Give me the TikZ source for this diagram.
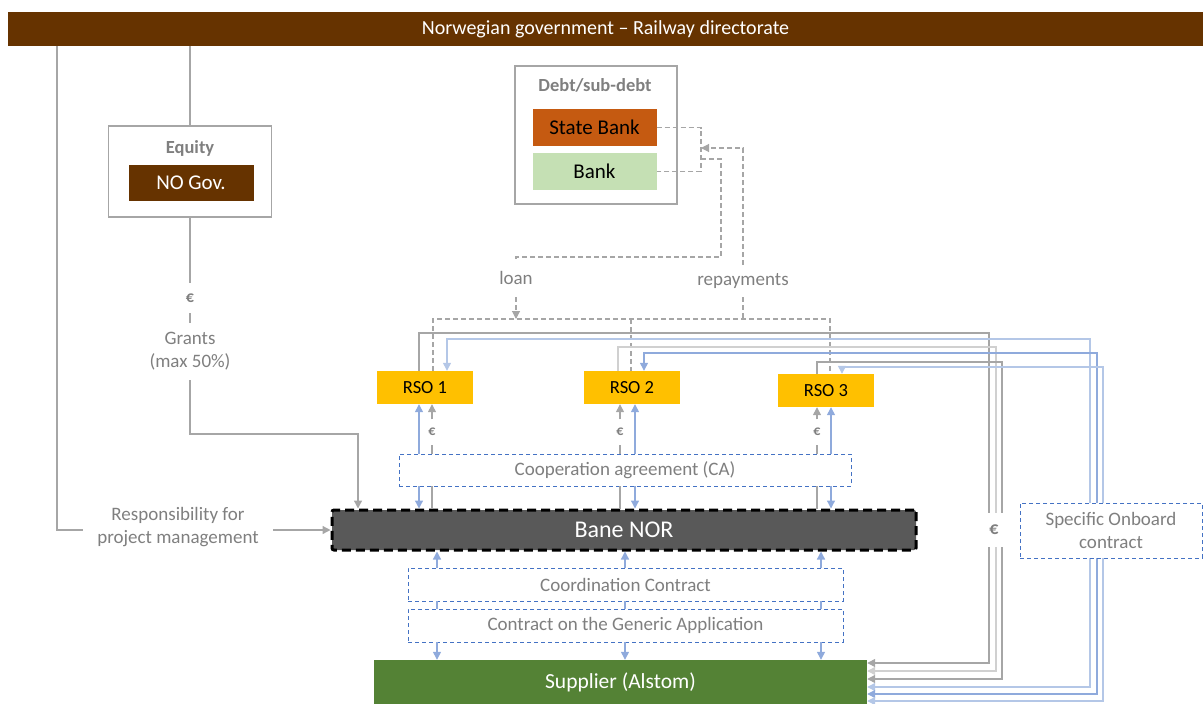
\documentclass[tikz,border=0pt]{standalone}
\usepackage{fontspec}
\setmainfont{Carlito}
\usetikzlibrary{arrows.meta}

\definecolor{govbrown}{HTML}{663300}
\definecolor{sbankcol}{HTML}{C55A11}
\definecolor{bankcol}{HTML}{C5E0B4}
\definecolor{rsocol}{HTML}{FFC000}
\definecolor{banecol}{HTML}{595959}
\definecolor{supcol}{HTML}{548235}
\definecolor{linegray}{HTML}{A6A6A6}
\definecolor{lightgray}{HTML}{D0D0D0}
\definecolor{txtgray}{HTML}{7F7F7F}
\definecolor{lineblue}{HTML}{8FAADC}
\definecolor{paleblue}{HTML}{B4C7E7}
\definecolor{boxblue}{HTML}{4472C4}

\begin{document}
\begin{tikzpicture}[x=1pt,y=-1pt,
  >={Triangle[length=8pt,width=8pt]},
  fillbox/.style={inner sep=0pt,align=center,font=\fontsize{21}{25}\selectfont},
  framebox/.style={draw=linegray,line width=1.6pt,inner sep=0pt},
  rso/.style={fillbox,fill=rsocol,minimum width=96pt,minimum height=33pt,font=\fontsize{18.5}{22}\selectfont},
  contract/.style={draw=boxblue,line width=0.9pt,dash pattern=on 4pt off 3pt,fill=white,
    text=txtgray,inner sep=0pt,align=center,font=\fontsize{19}{23}\selectfont},
  lbl/.style={text=txtgray,inner sep=0pt,align=center,font=\fontsize{19}{23}\selectfont},
  euro/.style={lbl,fill=white,font=\bfseries\fontsize{14}{16}\selectfont},
  gline/.style={draw=linegray,line width=1.3pt},
  gdash/.style={draw=linegray,line width=1.1pt,dash pattern=on 5pt off 3pt},
  bline/.style={draw=lineblue,line width=1.3pt}]
\useasboundingbox (0,0) rectangle (1203,704);

% boxes
\node[fillbox,fill=govbrown,text=white,minimum width=1195pt,minimum height=34pt,
  font=\fontsize{20}{24}\selectfont] (gov) at (605.5,29) {Norwegian government -- Railway directorate};

\node[framebox,minimum width=163pt,minimum height=91pt] (eqbox) at (190,171.5) {};
\node[lbl,font=\bfseries\fontsize{18.5}{22}\selectfont] (eqtitle) at (190,148) {Equity};
\node[fillbox,fill=govbrown,text=white,minimum width=125pt,minimum height=36pt] (nogov) at (191,183) {NO Gov.};

\node[framebox,minimum width=162pt,minimum height=138pt] (debtbox) at (596,135) {};
\node[lbl,font=\bfseries\fontsize{18.5}{22}\selectfont] (debttitle) at (595,85) {Debt/sub-debt};
\node[fillbox,fill=sbankcol,minimum width=124pt,minimum height=37pt] (sbank) at (594.5,127.5) {State Bank};
\node[fillbox,fill=bankcol,minimum width=124pt,minimum height=37pt] (bank) at (594.5,171.5) {Bank};

\node[rso] (rso1) at (425,387.5) {RSO 1};
\node[rso] (rso2) at (632,387.5) {RSO 2};
\node[rso] (rso3) at (826,390.5) {RSO 3};

\node[contract,minimum width=452pt,minimum height=32pt] (ca) at (625,470) {Cooperation agreement (CA)};
\node[fillbox,fill=banecol,text=white,draw=black,line width=3pt,dash pattern=on 9pt off 5pt,
  rounded corners=2pt,minimum width=584pt,minimum height=40pt,font=\fontsize{24}{28}\selectfont] (bane) at (624,530) {Bane NOR};
\node[contract,minimum width=435pt,minimum height=33pt] (coord) at (625.5,584.5) {Coordination Contract};
\node[contract,minimum width=435pt,minimum height=33pt] (generic) at (625.5,625.5) {Contract on the Generic Application};
\node[fillbox,fill=supcol,text=white,minimum width=493pt,minimum height=44pt,
  font=\fontsize{21.5}{25}\selectfont] (supplier) at (620.5,682) {Supplier (Alstom)};

% labels
\node[lbl,inner xsep=14.5pt] (resp) at (178,527) {Responsibility for\\project management};
\node[euro,minimum height=30pt,font=\bfseries\fontsize{16}{18}\selectfont] (euro0) at (190,298) {€};
\node[lbl,minimum height=57pt] (grants) at (190,351.5) {Grants\\(max 50\%)};
\node[lbl,minimum height=38pt] (loan) at (516,278) {loan};
\node[lbl,minimum height=32pt] (repay) at (743,281) {repayments};

% government
\coordinate (lc) at (57,530);
\draw[gline] (lc |- gov.south) -- (lc) -- (lc -| resp.west);
\draw[gline,->] (resp.east |- lc) -- (lc -| bane.west);
\draw[gline] (eqbox.north) -- (eqbox.north |- gov.south);
\draw[gline] (eqbox.south) -- (euro0.north);
\draw[gline] (euro0.south) -- (grants.north);
\coordinate (gc) at (358,434);
\draw[gline,->] (grants.south) |- (gc) -- (gc |- bane.north);

% debt and repayments
\coordinate (bk) at (701,148);
\coordinate (lst) at (701,159);
\coordinate (ln) at (721,257);
\coordinate (db1) at (433,319);
\coordinate (db2) at (631,319);
\coordinate (db3) at (830,319);
\draw[gdash] (sbank.east) -| (bk) |- (bank.east);
\draw[gdash,->] (repay.north) |- (bk);
\draw[gdash] (repay.south) -- (repay.south |- db2);
\draw[gdash] (lst) -| (ln) -| (loan.north);
\draw[gdash,->] (loan.south) -- (loan.south |- db1);
\draw[gdash] (db1 |- rso1.north) -- (db1) -- (db3) -- (db3 |- rso3.north);
\draw[gdash] (db2) -- (db2 |- rso2.north);

% RSOs and cooperation agreement
\foreach \r/\b/\g in {rso1/419/432,rso2/635/620,rso3/831/817} {
  \coordinate (bx) at (\b,0);
  \coordinate (gx) at (\g,0);
  \node[euro,minimum height=25pt] (eu-\r) at (\g,432) {€};
  \draw[bline,->] (bx |- ca.north) -- (bx |- \r.south);
  \draw[bline,->] (bx |- ca.south) -- (bx |- bane.north);
  \draw[gline] (gx |- bane.north) -- (gx |- ca.south);
  \draw[gline] (gx |- ca.north) -- (eu-\r.south);
  \draw[gline,->] (eu-\r.north) -- (gx |- \r.south);
}

% contracts with the supplier
\foreach \x in {437,625,821} {
  \coordinate (cx) at (\x,0);
  \draw[bline,->] (cx |- coord.north) -- (cx |- bane.south);
  \draw[bline] (cx |- coord.south) -- (cx |- generic.north);
  \draw[bline,->] (cx |- generic.south) -- (cx |- supplier.north);
}

% payments RSO -> supplier
\foreach \r/\px/\pt/\qx/\qy/\c in {rso1/419/333/989/663/linegray,rso2/618/347/996/671/lightgray,rso3/817/362/1002/679/linegray} {
  \coordinate (p) at (\px,\pt);
  \coordinate (q) at (\qx,\qy);
  \draw[gline,draw=\c,->] (p |- \r.north) -- (p) -| (q) -- (q -| supplier.east);
}
% specific onboard contracts
\foreach \r/\px/\pt/\qx/\qy/\c in {rso1/447/339/1090/687/paleblue,rso2/644/353/1097/694/lineblue,rso3/842/367/1103/701/paleblue} {
  \coordinate (p) at (\px,\pt);
  \coordinate (q) at (\qx,\qy);
  \draw[bline,draw=\c,<->] (p |- \r.north) -- (p) -| (q) -- (q -| supplier.east);
}

\node[euro,minimum height=34pt,minimum width=22pt,font=\bfseries\fontsize{18}{20}\selectfont] (euro4) at (994,530) {€};
\node[contract,minimum width=182pt,minimum height=55pt] (onboard) at (1111,530.5) {Specific Onboard\\contract};
\end{tikzpicture}
\end{document}
